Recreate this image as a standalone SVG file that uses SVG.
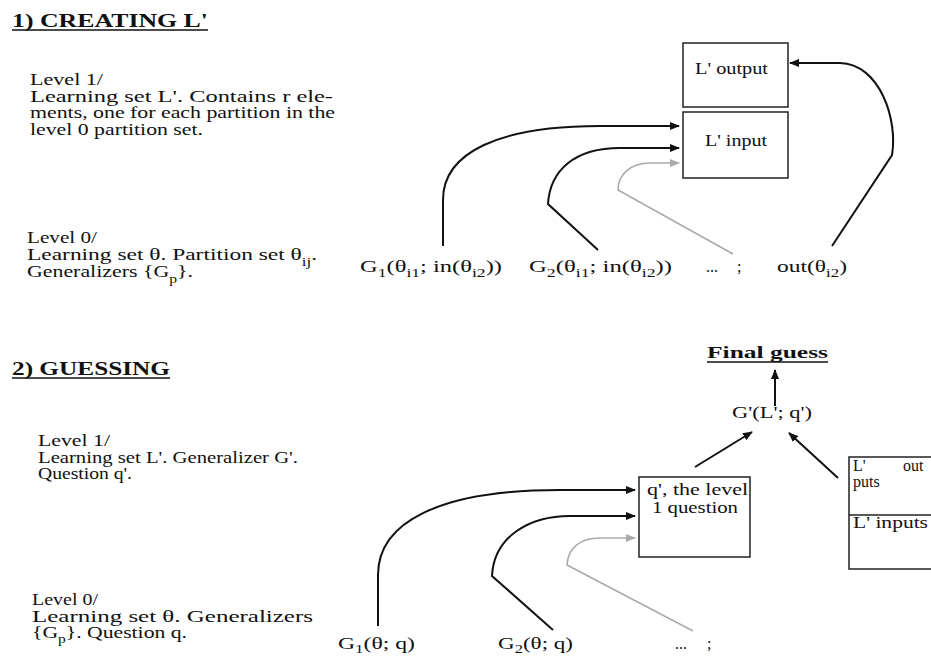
<svg xmlns="http://www.w3.org/2000/svg" width="931" height="658" viewBox="0 0 931 658">
<style>
text{font-family:"Liberation Serif","Times New Roman",serif;font-size:16px;fill:#111}
.title{font-weight:bold;font-size:18px}
.bold{font-weight:bold}
.sub{font-size:11.5px}
.box{fill:none;stroke:#222;stroke-width:1.5}
.ln{fill:none;stroke:#111;stroke-width:2}
.gray{fill:none;stroke:#aaa;stroke-width:1.6}
.ul{stroke:#111;stroke-width:1.3}
</style>
<defs>
<marker id="ah" markerUnits="userSpaceOnUse" markerWidth="10" markerHeight="8" refX="9" refY="4" orient="auto">
<path d="M0,0 L10,4 L0,8 z" fill="#111"/>
</marker>
<marker id="ahg" markerUnits="userSpaceOnUse" markerWidth="10" markerHeight="8" refX="9" refY="4" orient="auto">
<path d="M0,0 L10,4 L0,8 z" fill="#aaa"/>
</marker>
</defs>
<rect width="931" height="658" fill="#fff"/>

<g id="section1-text">
<text class="title" x="12" y="27" textLength="196" lengthAdjust="spacingAndGlyphs">1) CREATING L'</text>
<line class="ul" x1="12" y1="30" x2="208" y2="30"/>
<text x="30" y="85" textLength="73" lengthAdjust="spacingAndGlyphs">Level 1/</text>
<text x="30" y="101.5" textLength="303" lengthAdjust="spacingAndGlyphs">Learning set L'. Contains r ele-</text>
<text x="30" y="118" textLength="305" lengthAdjust="spacingAndGlyphs">ments, one for each partition in the</text>
<text x="30" y="134.5" textLength="173" lengthAdjust="spacingAndGlyphs">level 0 partition set.</text>
<text x="27" y="243" textLength="70" lengthAdjust="spacingAndGlyphs">Level 0/</text>
<text x="27" y="260" textLength="290" lengthAdjust="spacingAndGlyphs">Learning set θ. Partition set θ<tspan class="sub" dy="6">ij</tspan><tspan dy="-6">.</tspan></text>
<text x="27" y="277" textLength="166" lengthAdjust="spacingAndGlyphs">Generalizers {G<tspan class="sub" dy="6">p</tspan><tspan dy="-6">}.</tspan></text>
</g>

<g id="node-Loutput">
<rect class="box" x="683" y="43" width="105" height="64"/>
<text x="695" y="74" textLength="73" lengthAdjust="spacingAndGlyphs">L' output</text>
</g>
<g id="node-Linput">
<rect class="box" x="683" y="112" width="105" height="66"/>
<text x="705" y="146" textLength="62" lengthAdjust="spacingAndGlyphs">L' input</text>
</g>

<g id="node-G1a">
<text x="360" y="272" textLength="142" lengthAdjust="spacingAndGlyphs">G<tspan class="sub" dy="5">1</tspan><tspan dy="-5">(θ</tspan><tspan class="sub" dy="5">i1</tspan><tspan dy="-5">; in(θ</tspan><tspan class="sub" dy="5">i2</tspan><tspan dy="-5">))</tspan></text>
</g>
<g id="node-G2a">
<text x="529" y="272" textLength="143" lengthAdjust="spacingAndGlyphs">G<tspan class="sub" dy="5">2</tspan><tspan dy="-5">(θ</tspan><tspan class="sub" dy="5">i1</tspan><tspan dy="-5">; in(θ</tspan><tspan class="sub" dy="5">i2</tspan><tspan dy="-5">))</tspan></text>
</g>
<g id="node-dotsa">
<text x="706" y="272">...<tspan x="737">;</tspan></text>
</g>
<g id="node-outa">
<text x="777" y="272" textLength="70" lengthAdjust="spacingAndGlyphs">out(θ<tspan class="sub" dy="5">i2</tspan><tspan dy="-5">)</tspan></text>
</g>

<g id="section2-text">
<text class="title" x="12" y="375" textLength="158" lengthAdjust="spacingAndGlyphs">2) GUESSING</text>
<line class="ul" x1="12" y1="378" x2="170" y2="378"/>
<text x="38" y="446" textLength="72" lengthAdjust="spacingAndGlyphs">Level 1/</text>
<text x="38" y="462.5" textLength="260" lengthAdjust="spacingAndGlyphs">Learning set L'. Generalizer G'.</text>
<text x="38" y="479" textLength="94" lengthAdjust="spacingAndGlyphs">Question q'.</text>
<text x="32" y="605" textLength="66" lengthAdjust="spacingAndGlyphs">Level 0/</text>
<text x="32" y="621.5" textLength="281" lengthAdjust="spacingAndGlyphs">Learning set θ. Generalizers</text>
<text x="32" y="638" textLength="155" lengthAdjust="spacingAndGlyphs">{G<tspan class="sub" dy="5">p</tspan><tspan dy="-5">}. Question q.</tspan></text>
</g>

<g id="node-final">
<text class="bold" x="707" y="358" textLength="121" lengthAdjust="spacingAndGlyphs">Final guess</text>
<line class="ul" x1="707" y1="362" x2="828" y2="362"/>
</g>
<g id="node-Gprime">
<text x="732" y="418" textLength="80" lengthAdjust="spacingAndGlyphs">G'(L'; q')</text>
</g>
<g id="node-qprime">
<rect class="box" x="639" y="477" width="111" height="80"/>
<text x="647" y="495" textLength="101" lengthAdjust="spacingAndGlyphs">q', the level</text>
<text x="652" y="513" textLength="86" lengthAdjust="spacingAndGlyphs">1 question</text>
</g>
<g id="node-Lset">
<rect class="box" x="849" y="457" width="100" height="112"/>
<line class="box" x1="849" y1="515" x2="949" y2="515"/>
<text x="853" y="471">L'</text>
<text x="903" y="471">out</text>
<text x="853" y="487">puts</text>
<text x="853" y="528" textLength="75" lengthAdjust="spacingAndGlyphs">L' inputs</text>
</g>
<g id="node-G1b">
<text x="338" y="649" textLength="77" lengthAdjust="spacingAndGlyphs">G<tspan class="sub" dy="4">1</tspan><tspan dy="-4">(θ; q)</tspan></text>
</g>
<g id="node-G2b">
<text x="498" y="649" textLength="75" lengthAdjust="spacingAndGlyphs">G<tspan class="sub" dy="4">2</tspan><tspan dy="-4">(θ; q)</tspan></text>
</g>
<g id="node-dotsb">
<text x="675" y="649">...<tspan x="707">;</tspan></text>
</g>

<g id="connectors">
<path class="ln" marker-end="url(#ah)" d="M443,246 L443,200 C443,152 500,126 600,126 L679,126"/>
<path class="ln" marker-end="url(#ah)" d="M598,250 L548,204 C550,170 575,148 620,148 L679,148"/>
<path class="gray" marker-end="url(#ahg)" d="M733,254 L618,190 C618,175 630,163 650,163 L679,163"/>
<path class="ln" marker-end="url(#ah)" d="M832,246 L892,155 C898,120 880,64 840,63 L790,63"/>
<line class="ln" marker-end="url(#ah)" x1="775" y1="406" x2="775" y2="370"/>
<line class="ln" marker-end="url(#ah)" x1="695" y1="467" x2="752" y2="432"/>
<line class="ln" marker-end="url(#ah)" x1="838" y1="478" x2="789" y2="433"/>
<path class="ln" marker-end="url(#ah)" d="M378,626 L378,575 C378,522 440,490 560,490 L635,490"/>
<path class="ln" marker-end="url(#ah)" d="M553,630 L492,576 C494,536 530,516 570,516 L635,516"/>
<path class="gray" marker-end="url(#ahg)" d="M693,631 L567,565 C568,548 580,538 600,538 L635,538"/>
</g>
</svg>
